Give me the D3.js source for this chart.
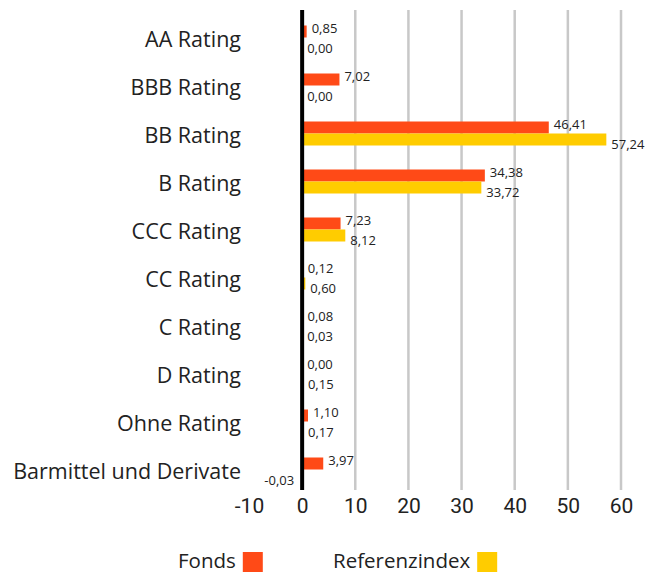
<!DOCTYPE html>
<html>
<head>
<meta charset="utf-8">
<script src="https://cdn.jsdelivr.net/npm/d3@7"></script>
<style>
  body { margin: 0; background: #fff; }
  svg text { font-family: "Open Sans", Roboto, sans-serif; fill: #222; }
</style>
</head>
<body>
<svg id="chart" width="667" height="574"></svg>
<script>
// categories and series values (percent)
const categories = ["AA Rating", "BBB Rating", "BB Rating", "B Rating", "CCC Rating",
  "CC Rating", "C Rating", "D Rating", "Ohne Rating", "Barmittel und Derivate"];
const fonds = [0.85, 7.02, 46.41, 34.38, 7.23, 0.12, 0.08, 0.00, 1.10, 3.97];
const referenz = [0.00, 0.00, 57.24, 33.72, 8.12, 0.60, 0.03, 0.15, 0.17, -0.03];
const xTicks = [-10, 0, 10, 20, 30, 40, 50, 60];
const seriesNames = ["Fonds", "Referenzindex"];
const seriesColors = ["#ff4a17", "#ffcc00"];

let svg = d3.select("#chart");
let plotLeft = 249, plotRight = 621, plotTop = 13.5, plotBottom = 493.5;

let xScale = d3.scaleLinear()
  .domain([-10, 60])
  .range([plotLeft, plotRight]);
let yScale = d3.scaleBand()
  .domain(categories)
  .range([plotTop, plotBottom]);
let fmt = v => d3.format(".2f")(v).replace(".", ",").replace("\u2212", "-");

// grid lines
svg.append("g").selectAll("line")
  .data(xTicks.filter(t => t > 0))
  .enter().append("line")
  .attr("x1", d => xScale(d)).attr("x2", d => xScale(d))
  .attr("y1", 10).attr("y2", 490)
  .attr("stroke", "#c8c8c8").attr("stroke-width", 2.5);

// x axis labels
let xAxis = d3.axisBottom(xScale).tickValues(xTicks)
  .tickFormat(d => String(d)).tickSize(0).tickPadding(0);
let gx = svg.append("g")
  .attr("transform", "translate(0,498)")
  .call(xAxis);
gx.select(".domain").remove();
gx.selectAll("text")
  .style("font-size", "21px")
  .style("font-family", "Roboto, sans-serif")
  .attr("fill", "#222")
  .attr("dy", "0.71em");

// category labels
let yAxis = d3.axisLeft(yScale).tickSize(0).tickPadding(0);
let gy = svg.append("g")
  .attr("transform", "translate(241,0)")
  .call(yAxis);
gy.select(".domain").remove();
gy.selectAll("text")
  .style("font-size", "21.5px")
  .style("font-family", "\"Open Sans\", sans-serif")
  .attr("fill", "#222")
  .attr("dy", "0.42em");

let barH = 12;
let series = [fonds, referenz];
series.forEach(function (vals, s) {
  let g = svg.append("g");
  let rows = vals.map((v, i) => ({ cat: categories[i], v: v }));
  g.selectAll("rect").data(rows).enter().append("rect")
    .attr("x", d => xScale(Math.min(0, d.v)))
    .attr("y", d => yScale(d.cat) + yScale.bandwidth() / 2 - barH + s * barH)
    .attr("width", d => Math.abs(xScale(d.v) - xScale(0)))
    .attr("height", barH)
    .attr("fill", seriesColors[s]);
  g.selectAll("text").data(rows).enter().append("text")
    .attr("x", d => d.v < 0 ? xScale(0) - 8 : xScale(d.v) + 5)
    .attr("y", d => yScale(d.cat) + yScale.bandwidth() / 2 + (s === 0 ? -9 : 11))
    .attr("text-anchor", d => d.v < 0 ? "end" : "start")
    .attr("dy", "0.35em")
    .style("font-size", "13px")
    .text(d => fmt(d.v));
});

// zero line
svg.append("line")
  .attr("x1", xScale(0)).attr("x2", xScale(0))
  .attr("y1", 10).attr("y2", 490)
  .attr("stroke", "#000").attr("stroke-width", 4);

// legend
let legendX = [178, 333];
let lg = svg.append("g");
seriesNames.forEach(function (name, i) {
  let t = lg.append("text")
    .attr("x", legendX[i]).attr("y", 568)
    .style("font-size", "20.5px")
    .text(name);
  let w = t.node().getComputedTextLength();
  lg.append("rect")
    .attr("x", legendX[i] + w + 7).attr("y", 552)
    .attr("width", 20).attr("height", 20)
    .attr("fill", seriesColors[i]);
});
</script>
</body>
</html>
